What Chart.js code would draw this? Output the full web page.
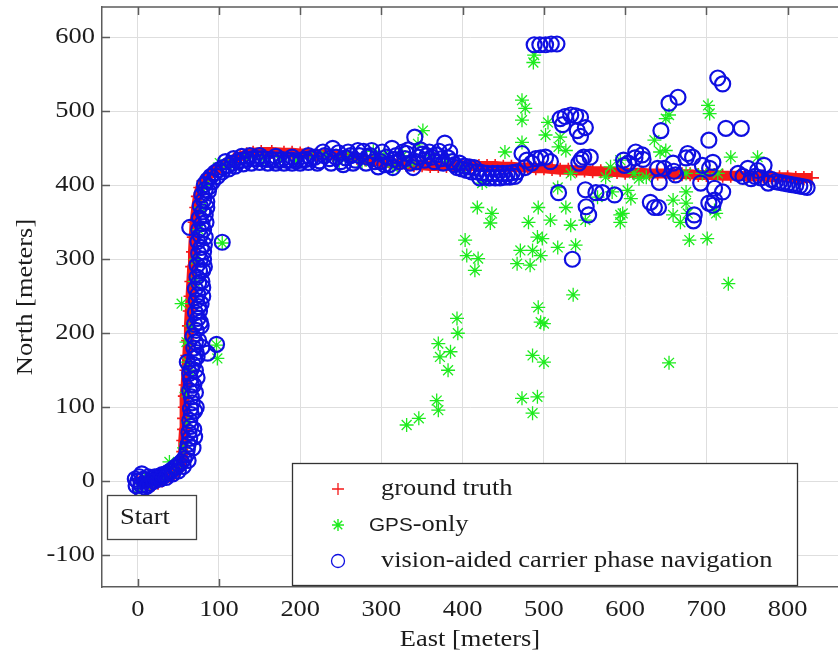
<!DOCTYPE html>
<html>
<head>
<meta charset="utf-8">
<title>Trajectory</title>
<script src="https://cdn.jsdelivr.net/npm/chart.js@4.4.1/dist/chart.umd.min.js"></script>
<style>
  html, body { margin: 0; padding: 0; background: #fff; }
  canvas { display: block; }
</style>
</head>
<body>
<canvas id="trajChart" width="838" height="657"></canvas>
<script>
// axis ticks
const xTicks = [0, 100, 200, 300, 400, 500, 600, 700, 800];
const yTicks = [-100, 0, 100, 200, 300, 400, 500, 600];

// ground truth track [east, north]
const groundTruth = [
  [0,2],[5,-2],[10,-4],[15,-5],[20,-4],[25,-2],[30,1],[35,4],[40,7],[45,11],[50,15],[53,20],
  [55,28],[56,40],[56,55],[57,70],[57,85],[58,100],[58,115],[59,130],[60,150],[61,170],[62,190],
  [63,210],[64,230],[65,250],[66,270],[67,290],[68,310],[69,330],[70,350],[72,370],[74,385],
  [77,397],[81,406],[87,413],[94,419],[102,425],[110,430],[118,435],[126,439],[134,442],[142,444],
  [152,445],[165,445],[180,444],[190,444],[200,443],[210,443],[220,442],[230,442],[240,441],
  [250,440],[260,438],[270,437],[280,435],[290,434],[300,431],[310,430],[320,429],[330,428],
  [340,427],[350,427],[360,426],[370,426],[380,426],[390,426],[400,426],[410,426],[420,426],
  [430,426],[440,426],[450,425],[460,425],[470,424],[480,424],[490,423],[500,423],[510,422],
  [520,421],[530,421],[540,420],[550,420],[560,419],[570,419],[580,418],[590,418],[600,417],
  [610,417],[620,417],[630,416],[640,416],[650,416],[660,415],[670,415],[680,415],[690,414],
  [700,414],[710,414],[720,413],[730,413],[740,413],[750,412],[760,412],[770,412],[780,411],
  [790,411],[800,411],[810,410],[820,410],[830,410]
];

// GPS-only fixes
const gpsOnly = [
  [2,-8],[8,4],[15,-2],[22,5],[30,6],[39,26],[48,18],[57,45],[62,80],[60,120],[63,150],[61,161],
  [60,188],[54,240],[66,210],[70,270],[72,300],[75,340],[78,370],[82,400],[97,184],[98,166],
  [104,322],[101,430],[115,430],[135,437],[155,436],[175,434],[195,433],[215,437],[232,440],
  [248,433],[262,440],[276,432],[290,446],[303,441],[314,425],[326,440],[338,430],[345,456],
  [351,474],[362,440],[380,436],[398,424],
  [331,76],[346,85],[368,109],[370,96],[370,186],[372,168],[385,175],[382,150],[393,220],[394,200],
  [403,326],[405,305],[419,301],[415,285],[424,403],[418,370],[436,362],[434,349],[452,445],
  [467,294],[471,312],[473,458],[473,488],[473,515],[477,504],[486,312],[483,292],[481,350],
  [486,170],[500,161],[473,112],[492,114],[486,92],[487,566],[488,576],[492,330],[493,370],
  [493,235],[496,215],[500,213],[496,305],[498,328],[505,485],[502,468],[508,353],[517,316],
  [518,452],[520,465],[527,447],[527,370],[533,346],[533,416],[536,252],[539,319],[551,353],
  [517,397],[566,384],[576,411],[582,425],[584,391],[594,434],[594,360],[594,350],[597,362],
  [603,393],[607,382],[611,416],[617,409],[626,411],[636,461],[643,445],[650,447],[650,490],
  [654,495],[654,160],[659,380],[659,360],[668,350],[675,416],[675,391],[675,376],[677,362],
  [679,326],[695,416],[701,328],[702,508],[704,497],[710,366],[712,362],[714,416],[727,267],
  [730,438],[763,438]
];

// vision-aided carrier phase solution
const visionAided = [
  [0,0],[2,6],[4,-5],[7,3],[9,-8],[11,2],[3,-10],[13,6],[15,-3],[18,4],[21,6],[24,5],[27,7],
  [30,9],[33,8],[36,11],[39,13],[42,15],[45,18],[48,20],[51,23],[54,26],[57,30],[60,36],[61,43],
  [5,10],[-3,3],[-2,-6],[12,-6],[20,0],[28,3],[35,5],[43,10],[50,14],[56,20],[62,28],
  [62,50],[64,58],[63,66],[65,74],[64,82],[66,90],[65,98],[67,106],[66,114],[64,122],[66,130],
  [65,138],[64,146],[66,152],[68,158],[70,166],[72,174],[69,180],[71,188],[68,196],[72,204],
  [70,212],[74,220],[71,228],[75,236],[72,244],[74,252],[71,260],[75,268],[73,276],[76,284],
  [73,292],[77,300],[75,308],[78,316],[74,324],[77,332],[75,340],[79,348],[76,356],[80,364],
  [77,372],[81,380],[79,387],[83,394],[82,401],[86,407],[90,412],[95,417],[100,421],[105,424],
  [111,427],[117,430],[123,432],[129,434],[135,435],[141,436],[147,436],[153,436],[159,435],
  [165,435],[171,434],[177,435],[183,434],[189,434],[195,433],[201,434],[207,435],[213,436],
  [70,60],[72,100],[73,140],[78,210],[80,250],[82,290],[83,330],[85,370],[88,398],[71,120],
  [76,230],[79,270],[81,310],[84,350],
  [68,45],[69,70],[70,95],[69,130],[71,150],[75,190],[77,215],[78,240],[80,262],[80,285],
  [81,300],[82,320],[81,340],[83,360],[85,378],[87,392],[92,405],[98,412],[104,418],[112,422],
  [120,426],[130,429],[140,430],[150,431],[160,430],[170,430],[180,430],[190,430],[200,430],
  [210,431],[108,432],[118,436],[128,439],[138,440],[150,440],[170,439],[190,438],[210,440],
  [104,323],[64,343],[97,185],[61,161],[73,168],[79,181],[86,173],
  [218,438],[224,433],[230,440],[236,436],[240,450],[244,438],[250,432],[256,437],[262,440],
  [268,434],[273,440],[278,446],[283,438],[288,447],[292,432],[296,425],[301,445],[306,438],
  [310,428],[313,450],[314,424],[318,440],[322,432],[326,445],[331,443],[335,430],[339,424],
  [341,465],[345,438],[350,442],[356,440],[362,438],[368,441],[374,436],[378,457],[382,437],
  [387,432],[393,424],[399,422],[405,420],[411,418],[418,418],[424,417],[430,416],[437,416],
  [443,416],[449,416],[455,416],[461,417],[467,418],[473,443],[477,424],[479,434],[485,430],
  [490,436],[496,437],[502,438],[508,432],
  [221,430],[228,445],[238,430],[247,444],[253,428],[259,445],[265,430],[271,447],[281,430],
  [286,440],[299,432],[304,428],[316,435],[329,436],[333,448],[343,432],[348,448],[353,434],
  [359,445],[365,432],[371,446],[376,430],[384,445],[390,428],[396,430],[402,426],[408,425],
  [414,424],[421,410],[427,411],[433,410],[440,410],[446,410],[452,411],[458,411],[464,412],
  [488,590],[495,590],[502,590],[509,591],[516,591],
  [520,490],[526,493],[533,495],[539,494],[545,492],[551,478],[541,474],[545,466],[523,482],
  [543,430],[549,438],[557,438],[546,435],
  [518,390],[535,300],[551,394],[564,390],[572,390],[587,387],[552,371],[555,360],
  [598,434],[604,430],[613,445],[621,441],[599,427],[612,437],[622,435],
  [631,377],[641,370],[636,370],[642,404],[640,423],[648,423],
  [644,474],[654,511],[665,519],[659,430],[662,414],[677,443],[683,438],[675,437],[660,419],
  [685,360],[684,352],
  [695,427],[708,431],[693,403],[710,396],[720,391],[703,376],[710,380],[703,461],[714,545],
  [720,537],[724,477],[743,477],[704,423],[708,373],
  [739,416],[751,423],[763,420],[771,427],[755,409],[776,403],[745,412],[760,412],[767,410],
  [780,408],[785,405],[790,404],[795,403],[800,402],[805,401],[810,400],[815,399],[820,398],
  [824,397]
];

const toXY = arr => arr.map(p => ({ x: p[0], y: p[1] }));

const serif = '"Liberation Serif", "Times New Roman", serif';
const sans = '"Liberation Sans", Arial, sans-serif';
const textColor = '#1c1c1c';
const frameColor = '#5c5c5c';
const redColor = 'rgb(245,25,25)';
const greenColor = 'rgb(30,235,30)';
const blueColor = 'rgb(15,15,225)';
const textSize = 23;
const textStretch = 1.15; // the labels are set a little wider than plain Times

// draw one label, widened along its baseline; returns its drawn width
function label(ctx, text, x, y, align, opts = {}) {
  const size = opts.size || textSize;
  ctx.save();
  ctx.translate(x, y);
  if (opts.rotate) ctx.rotate(opts.rotate);
  ctx.scale(textStretch, 1);
  ctx.font = size + 'px ' + (opts.family || serif);
  ctx.fillStyle = textColor;
  ctx.textAlign = align;
  ctx.textBaseline = 'middle';
  ctx.fillText(text, 0, 0);
  const w = ctx.measureText(text).width * textStretch;
  ctx.restore();
  return w;
}

// inward tick marks and the top edge of the box
const frameTicks = {
  id: 'frameTicks',
  beforeDatasetsDraw(chart) {
    const { ctx, chartArea: a, scales: { x, y } } = chart;
    ctx.save();
    ctx.strokeStyle = frameColor;
    ctx.lineWidth = 1.5;
    ctx.beginPath();
    ctx.moveTo(a.left, a.top);
    ctx.lineTo(a.right, a.top);
    xTicks.forEach(v => {
      const px = Math.round(x.getPixelForValue(v)) + 0.5;
      ctx.moveTo(px, a.bottom); ctx.lineTo(px, a.bottom - 8);
      ctx.moveTo(px, a.top); ctx.lineTo(px, a.top + 8);
    });
    yTicks.forEach(v => {
      const py = Math.round(y.getPixelForValue(v)) + 0.5;
      ctx.moveTo(a.left, py); ctx.lineTo(a.left + 8, py);
    });
    ctx.stroke();
    ctx.restore();
  }
};

// tick labels, axis titles, legend box and the "Start" label
const overlay = {
  id: 'overlay',
  afterDraw(chart) {
    const { ctx, chartArea: a, scales: { x, y } } = chart;

    xTicks.forEach(v => label(ctx, String(v), x.getPixelForValue(v), a.bottom + 23, 'center'));
    yTicks.forEach(v => label(ctx, String(v), a.left - 7, y.getPixelForValue(v), 'right'));
    label(ctx, 'East [meters]', 470, 640, 'center');
    label(ctx, 'North [meters]', 26, (a.top + a.bottom) / 2, 'center', { rotate: -Math.PI / 2 });

    ctx.save();

    // Start label
    ctx.fillStyle = '#fff';
    ctx.fillRect(107, 495, 89, 44);
    ctx.strokeStyle = '#444';
    ctx.lineWidth = 1.3;
    ctx.strokeRect(107.5, 495.5, 89, 44);
    label(ctx, 'Start', 120, 518, 'left');

    // legend
    const lx = 292, ly = 463, lw = 505, lh = 122;
    ctx.fillStyle = '#fff';
    ctx.fillRect(lx, ly, lw, lh);
    ctx.strokeStyle = '#333';
    ctx.lineWidth = 1.3;
    ctx.strokeRect(lx + 0.5, ly + 0.5, lw, lh);

    const mx = 338;
    const rows = [489, 525, 561];

    // + marker
    ctx.strokeStyle = redColor;
    ctx.lineWidth = 1.3;
    ctx.beginPath();
    ctx.moveTo(mx - 6, rows[0]); ctx.lineTo(mx + 6, rows[0]);
    ctx.moveTo(mx, rows[0] - 6); ctx.lineTo(mx, rows[0] + 6);
    ctx.stroke();

    // * marker
    ctx.strokeStyle = greenColor;
    ctx.lineWidth = 1.4;
    ctx.beginPath();
    for (let k = 0; k < 4; k++) {
      const ang = k * Math.PI / 4;
      const dx = Math.cos(ang) * 6, dy = Math.sin(ang) * 6;
      ctx.moveTo(mx - dx, rows[1] - dy); ctx.lineTo(mx + dx, rows[1] + dy);
    }
    ctx.stroke();

    // o marker
    ctx.strokeStyle = blueColor;
    ctx.lineWidth = 1.3;
    ctx.beginPath();
    ctx.arc(mx, rows[2], 6.5, 0, Math.PI * 2);
    ctx.stroke();
    ctx.restore();

    label(ctx, 'ground truth', 381, rows[0], 'left');
    const gw = label(ctx, 'GPS', 369, rows[1] + 1, 'left', { family: sans, size: 18 });
    label(ctx, '-only', 369 + gw, rows[1], 'left');
    label(ctx, 'vision-aided carrier phase navigation', 381, rows[2], 'left');
  }
};

new Chart(document.getElementById('trajChart'), {
  type: 'scatter',
  data: {
    datasets: [
      {
        label: 'ground truth',
        data: toXY(groundTruth),
        showLine: true,
        borderColor: redColor,
        backgroundColor: redColor,
        borderWidth: 10,
        borderJoinStyle: 'round',
        tension: 0,
        pointStyle: 'cross',
        pointRadius: 7,
        pointBorderWidth: 1.6,
        order: 3
      },
      {
        label: 'GPS-only',
        data: toXY(gpsOnly),
        borderColor: greenColor,
        backgroundColor: greenColor,
        pointStyle: 'star',
        pointRadius: 7,
        pointBorderWidth: 1.3,
        order: 2
      },
      {
        label: 'vision-aided carrier phase navigation',
        data: toXY(visionAided),
        borderColor: blueColor,
        backgroundColor: 'rgba(0,0,0,0)',
        pointStyle: 'circle',
        pointRadius: 7.5,
        pointBorderWidth: 2.2,
        order: 1
      }
    ]
  },
  options: {
    responsive: false,
    animation: false,
    devicePixelRatio: 1,
    layout: { autoPadding: false, padding: { top: 7, right: 0, bottom: 0, left: 0 } },
    plugins: {
      legend: { display: false },
      tooltip: { enabled: false }
    },
    scales: {
      x: {
        type: 'linear',
        min: -44,
        max: 862,
        afterBuildTicks: s => { s.ticks = xTicks.map(v => ({ value: v })); },
        afterFit: s => { s.height = 70; s.paddingLeft = 0; s.paddingRight = 0; },
        ticks: { display: false },
        grid: { color: '#dedede', lineWidth: 1, drawTicks: false },
        border: { color: frameColor, width: 1.5 }
      },
      y: {
        type: 'linear',
        min: -143,
        max: 641,
        afterBuildTicks: s => { s.ticks = yTicks.map(v => ({ value: v })); },
        afterFit: s => { s.width = 102; s.paddingTop = 0; s.paddingBottom = 0; },
        ticks: { display: false },
        grid: { color: '#dedede', lineWidth: 1, drawTicks: false },
        border: { color: frameColor, width: 1.5 }
      }
    }
  },
  plugins: [frameTicks, overlay]
});
</script>
</body>
</html>
